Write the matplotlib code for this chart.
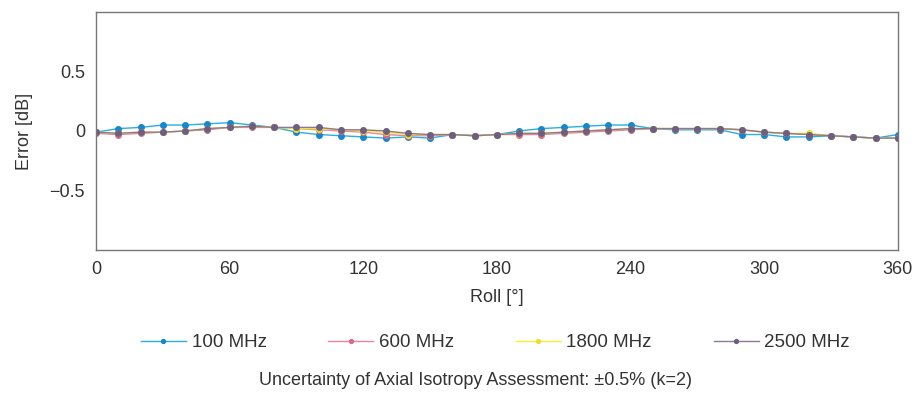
import numpy as np
import matplotlib.pyplot as plt

plt.rcParams['font.family'] = ['Liberation Sans', 'DejaVu Sans']

roll = np.arange(0, 361, 10)

err_100 = [-0.01, 0.02, 0.03, 0.05, 0.05, 0.06, 0.07, 0.05, 0.03, -0.01,
           -0.03, -0.04, -0.05, -0.06, -0.05, -0.06, -0.03, -0.04, -0.03, 0.00,
           0.02, 0.03, 0.04, 0.05, 0.05, 0.02, 0.01, 0.01, 0.01, -0.03,
           -0.03, -0.05, -0.05, -0.04, -0.05, -0.06, -0.03]
err_600 = [-0.02, -0.03, -0.02, -0.01, 0.00, 0.01, 0.03, 0.03, 0.03, 0.02,
           0.01, 0.00, -0.01, -0.03, -0.04, -0.04, -0.03, -0.04, -0.03, -0.03,
           -0.03, -0.02, -0.01, 0.00, 0.01, 0.02, 0.02, 0.02, 0.02, 0.01,
           -0.01, -0.02, -0.03, -0.04, -0.05, -0.06, -0.06]
err_1800 = [-0.01, -0.02, -0.01, -0.01, 0.00, 0.02, 0.03, 0.04, 0.03, 0.02,
            0.02, 0.01, 0.00, -0.01, -0.03, -0.03, -0.03, -0.04, -0.03, -0.02,
            -0.02, -0.01, 0.00, 0.01, 0.02, 0.02, 0.02, 0.02, 0.02, 0.01,
            -0.01, -0.02, -0.02, -0.04, -0.05, -0.06, -0.06]
err_2500 = [-0.01, -0.02, -0.01, -0.01, 0.00, 0.02, 0.03, 0.04, 0.03, 0.03,
            0.03, 0.01, 0.01, 0.00, -0.02, -0.03, -0.03, -0.04, -0.03, -0.02,
            -0.02, -0.01, 0.00, 0.01, 0.02, 0.02, 0.02, 0.02, 0.02, 0.01,
            -0.01, -0.02, -0.03, -0.04, -0.05, -0.06, -0.06]

labels = ['100 MHz', '600 MHz', '1800 MHz', '2500 MHz']
colors = ['#2aaee0', '#e8849c', '#f2ee3a', '#8a7a92']
mcolors = ['#1a86c8', '#d86a8a', '#e8e030', '#6e5e80']

fig = plt.figure(figsize=(9.19, 4.03), dpi=100)
ax = fig.add_axes([0.1045, 0.38, 0.8725, 0.59])

for y, lab, c, mc in zip([err_100, err_600, err_1800, err_2500], labels, colors, mcolors):
    ax.plot(roll, y, color=c, lw=1.0, marker='o', ms=4, mfc=mc, mec=mc, label=lab)

ax.set_xlim(0, 360)
ax.set_ylim(-1, 1)
ax.set_xticks(range(0, 361, 60))
ax.set_yticks([-0.5, 0, 0.5])
ax.set_yticklabels(['\u22120.5', '0', '0.5'])
ax.tick_params(length=0, labelsize=13, colors='#333333', pad=8)
for s in ax.spines.values():
    s.set_color('#777777')
    s.set_linewidth(1.0)
ax.set_xlabel('Roll [°]', fontsize=13, color='#333333', labelpad=8)
ax.set_ylabel('Error [dB]', fontsize=13, color='#333333', labelpad=12)

leg = fig.legend(loc='center', bbox_to_anchor=(0.539, 0.15), ncol=4, frameon=False,
                 fontsize=13.5, columnspacing=3.3, handlelength=2.4, handletextpad=0.3,
                 markerscale=0.7)
for t in leg.get_texts():
    t.set_color('#333333')
fig.text(0.517, 0.055, 'Uncertainty of Axial Isotropy Assessment: \u00b10.5% (k=2)',
         ha='center', va='center', fontsize=13, color='#333333')

fig.savefig('out.png', dpi=100)
